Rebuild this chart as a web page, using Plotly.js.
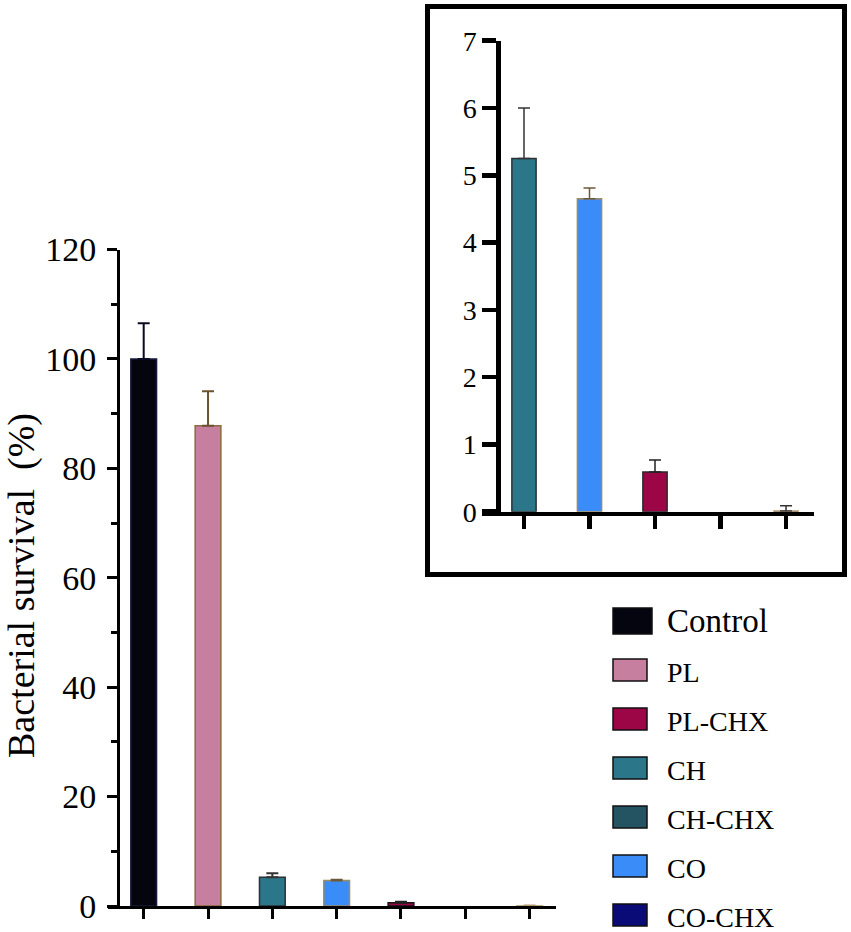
<!DOCTYPE html>
<html>
<head>
<meta charset="utf-8">
<script src="https://cdn.plot.ly/plotly-3.0.1.min.js"></script>
<style>html,body{margin:0;padding:0;background:#fff;}#chart{width:851px;height:932px;}</style>
</head>
<body>
<div id="chart"></div>
<script>
// ---- data ----
const groups     = ['Control', 'PL', 'PL-CHX', 'CH', 'CH-CHX', 'CO', 'CO-CHX'];
const survival   = [100, 87.8, 0.59, 5.25, 0, 4.65, 0.01];
const sem        = [6.5, 6.3, 0.18, 0.75, 0, 0.16, 0.08];
const mainOrder  = ['Control', 'PL', 'CH', 'CO', 'PL-CHX', 'CH-CHX', 'CO-CHX'];
const insetOrder = ['CH', 'CO', 'PL-CHX', 'CH-CHX', 'CO-CHX'];
const mainTicks  = [0, 20, 40, 60, 80, 100, 120];
const insetTicks = [0, 1, 2, 3, 4, 5, 6, 7];
const yTitle     = 'Bacterial survival\u00a0 (%)';

// ---- styles ----
const fillColors = {'Control':'#05050f','PL':'#c77fa0','PL-CHX':'#9c0646','CH':'#2b7689','CH-CHX':'#245462','CO':'#3a8df8','CO-CHX':'#0b0b78'};
const lineColors = {'Control':'#1a1a40','PL':'#8c6b3c','PL-CHX':'#2a2a2a','CH':'#2a3236','CH-CHX':'#1e2a30','CO':'#a08a60','CO-CHX':'#b59a6a'};
const errColors  = {'Control':'#0b0b20','PL':'#6b5230','PL-CHX':'#222','CH':'#333','CH-CHX':'#333','CO':'#6b5a3a','CO-CHX':'#b59a6a'};
const W = 851, H = 932;
const px = x => x / W;
const py = y => 1 - y / H;
const FONT = 'Liberation Serif';

const traces = [];
function addBars(order, xa, ya, width, errW, errT, errColorOverride, lineOverride) {
  order.forEach(name => {
    const i = groups.indexOf(name);
    traces.push({
      type: 'bar', x: [name], y: [survival[i]], xaxis: xa, yaxis: ya,
      width: width, showlegend: false, hoverinfo: 'x+y',
      marker: {color: fillColors[name],
               line: {color: (lineOverride && lineOverride[name]) || lineColors[name], width: survival[i] > 0 ? 1.5 : 0}},
      error_y: {type: 'data', array: [sem[i]], visible: sem[i] > 0, symmetric: false, arrayminus: [0],
                color: (errColorOverride && errColorOverride[name]) || errColors[name], thickness: errT, width: errW}
    });
  });
}
addBars(mainOrder, 'x', 'y', 0.40, 6, 2, null, {'PL-CHX':'#151515'});
addBars(insetOrder, 'x2', 'y2', 0.37, 6, 1.5, {'CO-CHX':'#333'});

// legend drawn from groups
const shapes = [];
const annotations = [];
const legTop = 621, legStep = 49;
groups.forEach((name, k) => {
  const cy = legTop + k * legStep;
  const big = k === 0;
  const hh = big ? 13 : 11;
  shapes.push({type:'rect', xref:'paper', yref:'paper',
    x0: px(613), x1: px(big ? 652 : 647), y0: py(cy + hh), y1: py(cy - hh),
    fillcolor: fillColors[name], line: {color:'#111', width: 1.5}});
  annotations.push({xref:'paper', yref:'paper', x: px(665), y: py(cy + (big ? 0 : 2)),
    xanchor:'left', yanchor:'middle', showarrow:false, text: name,
    font: {family: FONT, size: big ? 33 : 28, color:'#000'}});
});
// inset frame
shapes.push({type:'rect', xref:'paper', yref:'paper', x0: px(427.5), x1: px(844.5), y0: py(574.5), y1: py(6.5),
  line: {color:'#000', width: 5}, fillcolor:'rgba(0,0,0,0)'});
// y title
annotations.push({xref:'paper', yref:'paper', x: px(21), y: py(586), textangle: -90, showarrow:false,
  xanchor:'center', yanchor:'middle', text: yTitle, font: {family: FONT, size: 38, color:'#000'}});

const layout = {
  width: W, height: H, margin: {l:0, r:0, t:0, b:0},
  paper_bgcolor:'#fff', plot_bgcolor:'rgba(0,0,0,0)',
  font: {family: FONT, color:'#000'},
  showlegend: false, bargap: 0,
  xaxis: {domain: [px(108), px(556)], anchor:'y', type:'category', categoryorder:'array', categoryarray: mainOrder,
    range: [-0.555, 6.41], showline: true, linecolor:'#000', linewidth: 3, ticks:'outside', ticklen: 10, tickwidth: 3,
    tickcolor:'#000', showticklabels: false, showgrid: false, zeroline: false, fixedrange: true, automargin: false},
  yaxis: {domain: [py(906), py(249.5)], anchor:'free', position: px(118), range: [0, 120],
    tickvals: mainTicks, ticktext: mainTicks.map(String),
    showline: true, linecolor:'#000', linewidth: 3, ticks:'outside', ticklen: 10, tickwidth: 3, tickcolor:'#000',
    minor: {ticks:'outside', ticklen: 6, tickwidth: 3, tickcolor:'#000', dtick: 10, tick0: 0},
    tickfont: {family: FONT, size: 34, color:'#000'}, ticklabelstandoff: 4,
    showgrid: false, zeroline: false, automargin: false, fixedrange: true},
  xaxis2: {domain: [px(482), px(814)], anchor:'y2', type:'category', categoryorder:'array', categoryarray: insetOrder,
    range: [-0.641, 4.427], showline: true, linecolor:'#000', linewidth: 4.5, ticks:'outside', ticklen: 13, tickwidth: 4.5,
    tickcolor:'#000', showticklabels: false, showgrid: false, zeroline: false, fixedrange: true, automargin: false},
  yaxis2: {domain: [py(511.7), py(40.7)], anchor:'free', position: px(498.3), range: [0, 7],
    tickvals: insetTicks, ticktext: insetTicks.map(String),
    showline: true, linecolor:'#000', linewidth: 4.5, ticks:'outside', ticklen: 14, tickwidth: 4.5, tickcolor:'#000',
    tickfont: {family: FONT, size: 28, color:'#000'}, ticklabelstandoff: 0,
    showgrid: false, zeroline: false, automargin: false, fixedrange: true},
  shapes: shapes, annotations: annotations
};

Plotly.newPlot('chart', traces, layout, {staticPlot: true, displayModeBar: false});
</script>
</body>
</html>
